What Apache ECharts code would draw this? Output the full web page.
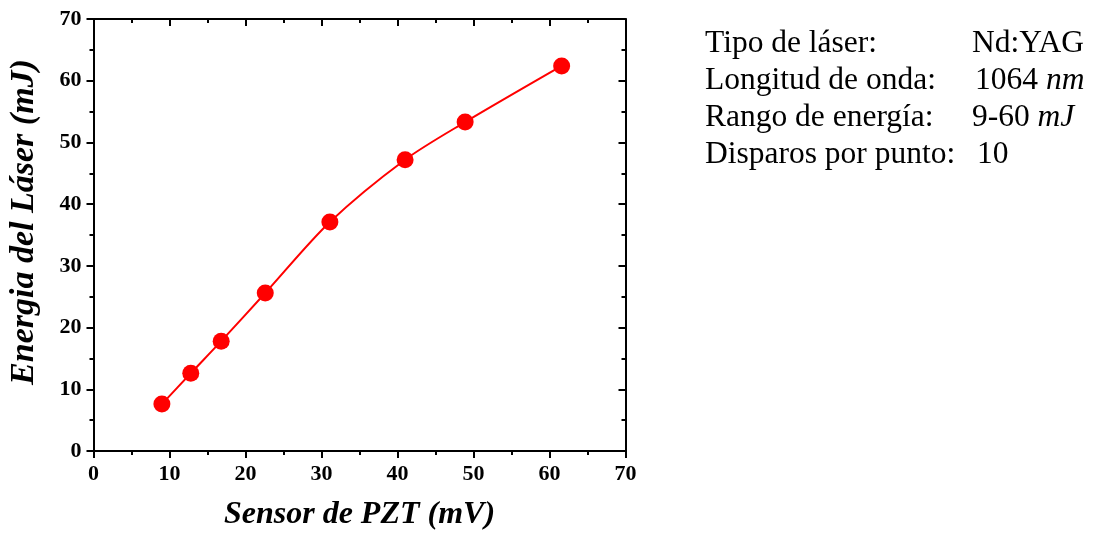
<!DOCTYPE html>
<html>
<head>
<meta charset="utf-8">
<script src="https://cdn.jsdelivr.net/npm/echarts@6/dist/echarts.min.js"></script>
<style>
  html, body { margin: 0; padding: 0; background: #fff; }
  #chart { width: 1096px; height: 537px; }
</style>
</head>
<body>
<div id="chart"></div>
<script>
// measured points
const sensorMv = [9.0, 12.8, 16.8, 22.6, 31.1, 41.0, 48.9, 61.6];
const energyMj = [7.6, 12.6, 17.8, 25.6, 37.1, 47.2, 53.3, 62.4];

// info block on the right
const infoLabels = ['Tipo de láser:', 'Longitud de onda:', 'Rango de energía:', 'Disparos por punto:'];
const infoValues = ['Nd:YAG', '1064', '9-60', '10'];
const infoUnits = ['', 'nm', 'mJ', ''];
const infoValueX = [972, 975, 972, 977];

const serif = '"Liberation Serif", "Times New Roman", serif';
const black2 = { color: '#000', width: 2 };

const infoGraphics = [];
infoLabels.forEach((label, i) => {
  const y = 44 + i * 37;
  infoGraphics.push({
    type: 'text', x: 705, y: y,
    style: { text: label, fontFamily: serif, fontSize: 31.5, fill: '#000', verticalAlign: 'middle' }
  });
  infoGraphics.push({
    type: 'text', x: infoValueX[i], y: y,
    style: {
      text: infoValues[i] + (infoUnits[i] ? ' {u|' + infoUnits[i] + '}' : ''),
      fontFamily: serif, fontSize: 31.5, fill: '#000', verticalAlign: 'middle',
      rich: { u: { fontFamily: serif, fontSize: 31.5, fontStyle: 'italic', fill: '#000' } }
    }
  });
});

const chart = echarts.init(document.getElementById('chart'));

const tickLabel = { color: '#000', fontFamily: serif, fontWeight: 'bold', fontSize: 22 };

// mirror axis (top / right), no labels, ticks pointing into the plot
function mirrorAxis(position) {
  return {
    type: 'value', position: position, min: 0, max: 70, interval: 10,
    axisLine: { onZero: false, lineStyle: black2 },
    axisTick: { inside: true, length: 7, lineStyle: black2 },
    minorTick: { show: true, splitNumber: 2, length: 4, lineStyle: black2 },
    axisLabel: { show: false },
    splitLine: { show: false }
  };
}

chart.setOption({
  animation: false,
  backgroundColor: '#fff',
  grid: { left: 93.5, right: 470.5, top: 19, bottom: 86 },
  xAxis: [
    {
      type: 'value', position: 'bottom', min: 0, max: 70, interval: 10,
      name: 'Sensor de PZT (mV)', nameLocation: 'middle', nameGap: 48,
      nameTextStyle: { color: '#000', fontFamily: serif, fontWeight: 'bold', fontStyle: 'italic', fontSize: 32 },
      axisLine: { onZero: false, lineStyle: black2 },
      axisTick: { length: 7, lineStyle: black2 },
      minorTick: { show: true, splitNumber: 2, length: 4, lineStyle: black2 },
      axisLabel: Object.assign({ margin: 12 }, tickLabel),
      splitLine: { show: false }
    },
    mirrorAxis('top')
  ],
  yAxis: [
    {
      type: 'value', position: 'left', min: 0, max: 70, interval: 10,
      name: 'Energia del Láser (mJ)', nameLocation: 'middle', nameGap: 52,
      nameTextStyle: { color: '#000', fontFamily: serif, fontWeight: 'bold', fontStyle: 'italic', fontSize: 34, padding: [0, 0, 0, 26] },
      axisLine: { onZero: false, lineStyle: black2 },
      axisTick: { length: 7, lineStyle: black2 },
      minorTick: { show: true, splitNumber: 2, length: 4, lineStyle: black2 },
      axisLabel: Object.assign({ margin: 12 }, tickLabel),
      splitLine: { show: false }
    },
    mirrorAxis('right')
  ],
  series: [
    {
      type: 'line',
      data: sensorMv.map((x, i) => [x, energyMj[i]]),
      smooth: 0.3,
      symbol: 'circle',
      symbolSize: 17,
      lineStyle: { color: '#ff0000', width: 2 },
      itemStyle: { color: '#ff0000' }
    }
  ],
  graphic: infoGraphics
});
</script>
</body>
</html>
